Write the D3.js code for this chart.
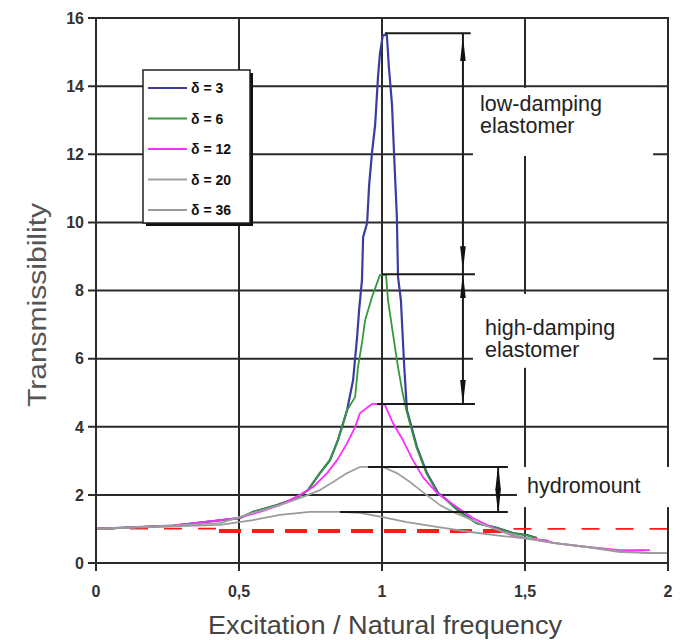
<!DOCTYPE html>
<html>
<head>
<meta charset="utf-8">
<script src="https://cdn.jsdelivr.net/npm/d3@7"></script>
<style>
  body { margin: 0; background: #fff; }
  svg { display: block; font-family: "Liberation Sans", Arial, sans-serif; }
</style>
</head>
<body>
<div id="chart"></div>
<script>
// values: [frequency ratio, transmissibility]
var delta3 = [[0,1.0],[0.27,1.1],[0.503,1.32],[0.549,1.5],[0.633,1.7],[0.703,1.91],[0.741,2.14],[0.783,2.64],
  [0.818,3.02],[0.846,3.61],[0.878,4.49],[0.899,5.37],[0.913,6.64],[0.92,7.43],[0.93,8.31],[0.934,9.57],
  [0.948,9.98],[0.955,11.1],[0.965,12.04],[0.976,12.86],[0.986,14.27],[0.993,14.97],[1.003,15.5],[1.017,15.5],
  [1.024,14.56],[1.035,13.45],[1.042,12.04],[1.052,10.16],[1.056,8.4],[1.066,7.72],[1.073,6.55],[1.077,5.87],
  [1.087,4.49],[1.122,3.41],[1.157,2.64],[1.196,2.06],[1.227,1.85],[1.273,1.5],[1.332,1.17],[1.402,1.03],
  [1.458,0.88],[1.507,0.82],[1.542,0.73]];
var delta6 = [[0,1.0],[0.27,1.1],[0.503,1.32],[0.549,1.5],[0.633,1.7],[0.703,1.91],[0.741,2.14],[0.783,2.64],
  [0.818,3.02],[0.846,3.61],[0.878,4.49],[0.906,4.87],[0.916,5.75],[0.93,6.46],[0.941,7.13],[0.965,7.81],
  [0.993,8.46],[1.014,8.46],[1.021,7.72],[1.038,6.75],[1.056,5.75],[1.07,5.08],[1.085,4.49],[1.12,3.41],
  [1.155,2.64],[1.194,2.06],[1.225,1.85],[1.27,1.5],[1.33,1.17],[1.4,1.03],[1.456,0.88],[1.505,0.82],[1.54,0.73]];
var delta12 = [[0,1.0],[0.27,1.1],[0.493,1.32],[0.573,1.5],[0.643,1.7],[0.713,2.0],[0.759,2.23],[0.808,2.64],
  [0.843,3.02],[0.878,3.52],[0.906,3.99],[0.923,4.4],[0.965,4.67],[0.976,4.67],[1.01,4.64],[1.038,4.11],
  [1.073,3.61],[1.108,3.02],[1.143,2.52],[1.192,2.06],[1.213,1.94],[1.262,1.64],[1.318,1.32],[1.388,1.03],
  [1.472,0.76],[1.577,0.66],[1.598,0.59],[1.717,0.47],[1.832,0.38],[1.937,0.38]];
var delta20 = [[0,1.0],[0.27,1.1],[0.434,1.17],[0.549,1.47],[0.643,1.7],[0.724,1.94],[0.783,2.14],[0.829,2.38],
  [0.878,2.64],[0.923,2.82],[0.951,2.82],[1.003,2.82],[1.052,2.64],[1.098,2.38],[1.143,2.08],[1.203,1.7],
  [1.248,1.5],[1.332,1.2],[1.423,0.91],[1.493,0.76],[1.598,0.59],[1.717,0.47],[1.832,0.32],[1.948,0.29],[2.0,0.29]];
var delta36 = [[0,1.0],[0.434,1.12],[0.549,1.26],[0.643,1.41],[0.748,1.5],[0.853,1.5],[0.923,1.47],[1.003,1.35],
  [1.087,1.2],[1.192,1.06],[1.308,0.91],[1.423,0.79],[1.493,0.73],[1.598,0.59],[1.717,0.47],[1.832,0.35],
  [1.948,0.29],[2.0,0.29]];

var seriesNames = ["\u03b4 = 3", "\u03b4 = 6", "\u03b4 = 12", "\u03b4 = 20", "\u03b4 = 36"];
var seriesData = [delta3, delta6, delta12, delta20, delta36];
var seriesColors = ["#3b3ba0", "#33993a", "#ff2cff", "#a0a0a0", "#9a9a9a"];

var xTicks = [0, 0.5, 1, 1.5, 2];
var xTickLabels = ["0", "0,5", "1", "1,5", "2"];
var yTicks = [0, 2, 4, 6, 8, 10, 12, 14, 16];

// reference line T = 1: [x from, x to, level, thick?]
var refLine = [[0, 0.43, 1.01, false], [0.43, 1.46, 0.94, true], [1.46, 2, 1.0, false]];

// peak level marks [x from, x to, level]
var levelLines = [[1.01, 1.31, 15.55], [1.0, 1.325, 8.48], [0.983, 1.325, 4.67], [0.951, 1.44, 2.82], [0.853, 1.44, 1.5]];
// double arrows [x, from, to, marker]
var arrows = [[1.283, 15.55, 8.48, "arrA"], [1.283, 8.48, 4.67, "arrB"], [1.406, 2.82, 1.5, "arrC"]];
var labelBoxes = [[1.318, 1.948, 13.95, 11.95], [1.318, 1.948, 7.9, 5.73], [1.472, 2.03, 2.82, 1.64]];
var labels = [
  {t: "low-damping", x: 1.343, y: 13.27}, {t: "elastomer", x: 1.343, y: 12.62},
  {t: "high-damping", x: 1.36, y: 6.69}, {t: "elastomer", x: 1.36, y: 6.05},
  {t: "hydromount", x: 1.507, y: 2.06}
];

var W = 680, H = 640;
var x = d3.scaleLinear().domain([0, 2]).range([96, 668]);
var y = d3.scaleLinear().domain([0, 16]).range([563, 18]);

var svg = d3.select("#chart").append("svg").attr("width", W).attr("height", H);

var defs = svg.append("defs");
function arrowMarker(id, inset) {
  defs.append("marker")
    .attr("id", id)
    .attr("markerUnits", "userSpaceOnUse")
    .attr("viewBox", "0 0 " + (18 + inset) + " 8")
    .attr("markerWidth", 18 + inset).attr("markerHeight", 8)
    .attr("refX", 18 + inset).attr("refY", 4)
    .attr("orient", "auto-start-reverse")
    .append("path")
    .attr("d", "M0,1.2 L18,3.2 L18,4.8 L0,6.8 Z")
    .attr("fill", "#111");
}
arrowMarker("arrA", 10);
arrowMarker("arrB", 6);
arrowMarker("arrC", 5);

// grid
var grid = svg.append("g").attr("stroke", "#2a2a2a").attr("stroke-width", 2);
grid.selectAll(".hy").data(yTicks).enter().append("line")
  .attr("x1", x(0) - 8).attr("x2", x(2)).attr("y1", d => y(d)).attr("y2", d => y(d));
grid.selectAll(".vx").data(xTicks).enter().append("line")
  .attr("x1", d => x(d)).attr("x2", d => x(d)).attr("y1", y(16)).attr("y2", y(0) + 8);

// white boxes behind annotation text
svg.selectAll(".box").data(labelBoxes).enter().append("rect")
  .attr("x", d => x(d[0])).attr("width", d => x(d[1]) - x(d[0]))
  .attr("y", d => y(d[2])).attr("height", d => y(d[3]) - y(d[2]))
  .attr("fill", "#fff");

// reference line at 1
svg.selectAll(".ref").data(refLine).enter().append("line")
  .attr("x1", d => x(d[0])).attr("x2", d => x(d[1]))
  .attr("y1", d => y(d[2])).attr("y2", d => y(d[2]))
  .attr("stroke", "#ff1a1a")
  .attr("stroke-width", d => d[3] ? 4 : 1.8)
  .attr("stroke-dasharray", d => d[3] ? "22,11" : "18,16");

// curves: coloured first, gray ones on top
var line = d3.line().x(d => x(d[0])).y(d => y(d[1]));
var order = [0, 1, 2, 3, 4];
svg.selectAll(".curve").data(order).enter().append("path")
  .attr("d", i => line(seriesData[i]))
  .attr("fill", "none")
  .attr("stroke", i => seriesColors[i])
  .attr("stroke-width", i => i === 0 ? 2.2 : 1.8)
  .attr("stroke-linejoin", "round");

// peak levels and arrows
svg.selectAll(".lvl").data(levelLines).enter().append("line")
  .attr("x1", d => x(d[0])).attr("x2", d => x(d[1]))
  .attr("y1", d => y(d[2])).attr("y2", d => y(d[2]))
  .attr("stroke", "#1a1a1a").attr("stroke-width", 2);
svg.selectAll(".arr").data(arrows).enter().append("line")
  .attr("x1", d => x(d[0])).attr("x2", d => x(d[0]))
  .attr("y1", d => y(d[1])).attr("y2", d => y(d[2]))
  .attr("stroke", "#1a1a1a").attr("stroke-width", 2)
  .attr("marker-start", d => "url(#" + d[3] + ")")
  .attr("marker-end", d => "url(#" + d[3] + ")");

svg.selectAll(".lab").data(labels).enter().append("text")
  .attr("x", d => x(d.x)).attr("y", d => y(d.y))
  .attr("font-size", 21.5).attr("fill", "#222")
  .text(d => d.t);

// frame
svg.append("rect")
  .attr("x", x(0)).attr("y", y(16)).attr("width", x(2) - x(0)).attr("height", y(0) - y(16))
  .attr("fill", "none").attr("stroke", "#2a2a2a").attr("stroke-width", 2);
// break the right border where the hydromount label sits
svg.append("rect")
  .attr("x", x(2) - 2).attr("width", 5)
  .attr("y", y(2.82)).attr("height", y(1.64) - y(2.82))
  .attr("fill", "#fff");

// tick labels
svg.selectAll(".yl").data(yTicks).enter().append("text")
  .attr("x", 84).attr("y", d => y(d)).attr("dy", "0.36em")
  .attr("text-anchor", "end").attr("font-size", 16).attr("font-weight", "bold").attr("fill", "#333")
  .text(d => d);
svg.selectAll(".xl").data(xTicks).enter().append("text")
  .attr("x", d => x(d)).attr("y", 597)
  .attr("text-anchor", "middle").attr("font-size", 16).attr("font-weight", "bold").attr("fill", "#333")
  .text((d, i) => xTickLabels[i]);

// axis titles
svg.append("text")
  .attr("x", 385).attr("y", 634).attr("text-anchor", "middle")
  .attr("font-size", 25).attr("fill", "#444")
  .attr("textLength", 354).attr("lengthAdjust", "spacingAndGlyphs")
  .text("Excitation / Natural frequency");
svg.append("text")
  .attr("transform", "translate(46,305) rotate(-90)").attr("text-anchor", "middle")
  .attr("font-size", 25).attr("fill", "#555")
  .attr("textLength", 204).attr("lengthAdjust", "spacingAndGlyphs")
  .text("Transmissibility");

// legend
var lg = svg.append("g").attr("transform", "translate(143,70)");
lg.append("rect").attr("x", 3).attr("y", 3).attr("width", 107).attr("height", 153).attr("fill", "#111");
lg.append("rect").attr("width", 107).attr("height", 153).attr("fill", "#fff").attr("stroke", "#222").attr("stroke-width", 1.5);
var row = lg.selectAll(".row").data(seriesNames).enter().append("g")
  .attr("transform", (d, i) => "translate(0," + (18 + i * 30.5) + ")");
row.append("line").attr("x1", 5).attr("x2", 44).attr("y1", 0).attr("y2", 0)
  .attr("stroke", (d, i) => seriesColors[i]).attr("stroke-width", 2);
row.append("text").attr("x", 48).attr("y", 0).attr("dy", "0.36em")
  .attr("font-size", 14).attr("font-weight", "bold").attr("fill", "#111")
  .text(d => d);
</script>
</body>
</html>
